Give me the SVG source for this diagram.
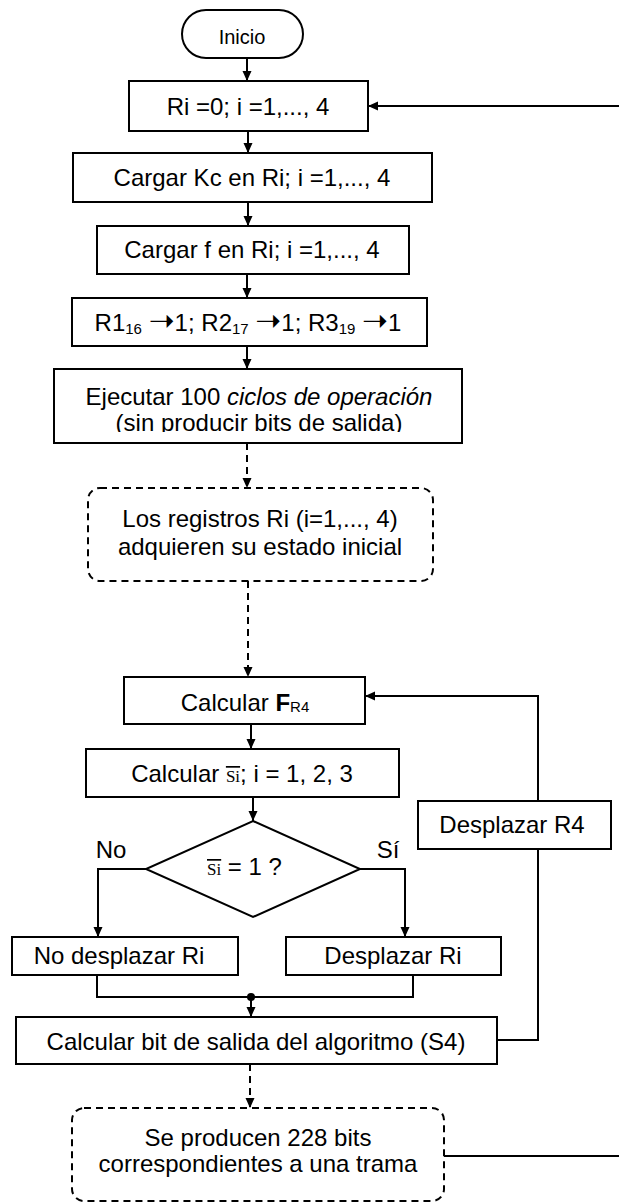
<svg xmlns="http://www.w3.org/2000/svg" width="619" height="1203" viewBox="0 0 619 1203">
  <style>
    .box { fill: #fff; stroke: #000; stroke-width: 2; }
    .dbox { fill: #fff; stroke: #000; stroke-width: 2; stroke-dasharray: 7 5; }
    .link { fill: none; stroke: #000; stroke-width: 2; }
    .dlink { fill: none; stroke: #000; stroke-width: 2; stroke-dasharray: 7 5; }
    .t { font-family: "Liberation Sans", Arial, sans-serif; font-size: 24px; fill: #000; text-anchor: middle; }
    .sub { font-size: 15px; }
    .arr { font-family: "DejaVu Sans", sans-serif; font-size: 31px; }
    .ser { font-family: "Liberation Serif", "Times New Roman", serif; font-size: 17px; text-decoration: overline; }
  </style>
  <defs>
    <marker id="arrow" markerUnits="userSpaceOnUse" markerWidth="11" markerHeight="11" refX="10" refY="5.5" orient="auto">
      <path d="M0,1 L10,5.5 L0,10 z" fill="#000"/>
    </marker>
    <clipPath id="clipExec">
      <rect x="55" y="370" width="406" height="62"/>
    </clipPath>
  </defs>

  <!-- connectors -->
  <g id="connectors">
    <line class="link" x1="247" y1="58" x2="247" y2="81" marker-end="url(#arrow)"/>
    <line class="link" x1="248" y1="131" x2="248" y2="153" marker-end="url(#arrow)"/>
    <line class="link" x1="248" y1="202" x2="248" y2="226" marker-end="url(#arrow)"/>
    <line class="link" x1="247" y1="274" x2="247" y2="298" marker-end="url(#arrow)"/>
    <line class="link" x1="247" y1="346" x2="247" y2="369" marker-end="url(#arrow)"/>
    <line class="dlink" x1="247" y1="443" x2="247" y2="488" marker-end="url(#arrow)"/>
    <line class="dlink" x1="248" y1="581" x2="248" y2="677" marker-end="url(#arrow)"/>
    <line class="link" x1="251" y1="724" x2="251" y2="749" marker-end="url(#arrow)"/>
    <line class="link" x1="253" y1="797" x2="253" y2="821" marker-end="url(#arrow)"/>
    <polyline class="link" points="146,869 98,869 98,937" marker-end="url(#arrow)"/>
    <polyline class="link" points="360,869 405,869 405,937" marker-end="url(#arrow)"/>
    <polyline class="link" points="97,975 97,997 413,997 413,975"/>
    <circle cx="251" cy="997" r="4" fill="#000"/>
    <line class="link" x1="251" y1="997" x2="251" y2="1017" marker-end="url(#arrow)"/>
    <polyline class="link" points="497,1040 538,1040 538,849"/>
    <polyline class="link" points="538,801 538,696 365,696" marker-end="url(#arrow)"/>
    <line class="dlink" x1="250" y1="1064" x2="250" y2="1108" marker-end="url(#arrow)"/>
    <line class="link" x1="444" y1="1156" x2="619" y2="1156"/>
    <line class="link" x1="619" y1="106" x2="368" y2="106" marker-end="url(#arrow)"/>
  </g>

  <g id="inicio">
    <rect class="box" x="182" y="10" width="121" height="48" rx="24"/>
    <text class="t" x="242" y="44" style="font-size:20px">Inicio</text>
  </g>

  <g id="reset">
    <rect class="box" x="129" y="81" width="239" height="50"/>
    <text class="t" x="248" y="115">Ri =0; i =1,..., 4</text>
  </g>

  <g id="load-kc">
    <rect class="box" x="73" y="153" width="359" height="49"/>
    <text class="t" x="252" y="186">Cargar Kc en Ri; i =1,..., 4</text>
  </g>

  <g id="load-f">
    <rect class="box" x="97" y="226" width="312" height="48"/>
    <text class="t" x="252" y="258">Cargar f en Ri; i =1,..., 4</text>
  </g>

  <g id="force-bits">
    <rect class="box" x="72" y="298" width="355" height="48"/>
    <text class="t" x="248" y="331">R1<tspan class="sub" dy="3">16</tspan><tspan dy="-3"> </tspan><tspan class="arr">➝</tspan>1; R2<tspan class="sub" dy="3">17</tspan><tspan dy="-3"> </tspan><tspan class="arr">➝</tspan>1; R3<tspan class="sub" dy="3">19</tspan><tspan dy="-3"> </tspan><tspan class="arr">➝</tspan>1</text>
  </g>

  <g id="warmup">
    <rect class="box" x="54" y="369" width="408" height="74"/>
    <g clip-path="url(#clipExec)">
      <text class="t" x="259" y="405">Ejecutar 100 <tspan font-style="italic">ciclos de operación</tspan></text>
      <text class="t" x="259" y="431">(sin producir bits de salida)</text>
    </g>
  </g>

  <g id="initial-state">
    <rect class="dbox" x="88" y="488" width="345" height="93" rx="12"/>
    <text class="t" x="260" y="527">Los registros Ri (i=1,..., 4)</text>
    <text class="t" x="260" y="555">adquieren su estado inicial</text>
  </g>

  <g id="calc-f">
    <rect class="box" x="124" y="677" width="241" height="47"/>
    <text class="t" x="245" y="711">Calcular <tspan font-weight="bold">F</tspan><tspan class="sub" dy="1">R4</tspan></text>
  </g>

  <g id="calc-s">
    <rect class="box" x="86" y="749" width="313" height="48"/>
    <text class="t" x="242" y="782">Calcular <tspan class="ser">Si</tspan>; i = 1, 2, 3</text>
  </g>

  <g id="decision">
    <polygon class="box" points="253,821 360,869 253,917 146,869"/>
    <text class="t" x="207" y="875" style="text-anchor:start"><tspan class="ser">Si</tspan> = 1 ?</text>
    <text class="t" x="111" y="858">No</text>
    <text class="t" x="388" y="858">Sí</text>
  </g>

  <g id="no-shift">
    <rect class="box" x="12" y="937" width="226" height="38"/>
    <text class="t" x="119" y="964">No desplazar Ri</text>
  </g>

  <g id="shift">
    <rect class="box" x="286" y="937" width="215" height="38"/>
    <text class="t" x="393" y="964">Desplazar Ri</text>
  </g>

  <g id="shift-r4">
    <rect class="box" x="418" y="801" width="193" height="48"/>
    <text class="t" x="512" y="833">Desplazar R4</text>
  </g>

  <g id="output-bit">
    <rect class="box" x="16" y="1017" width="481" height="47"/>
    <text class="t" x="256" y="1050">Calcular bit de salida del algoritmo (S4)</text>
  </g>

  <g id="frame">
    <rect class="dbox" x="72" y="1108" width="372" height="93" rx="12"/>
    <text class="t" x="258" y="1146">Se producen 228 bits</text>
    <text class="t" x="258" y="1172">correspondientes a una trama</text>
  </g>
</svg>
